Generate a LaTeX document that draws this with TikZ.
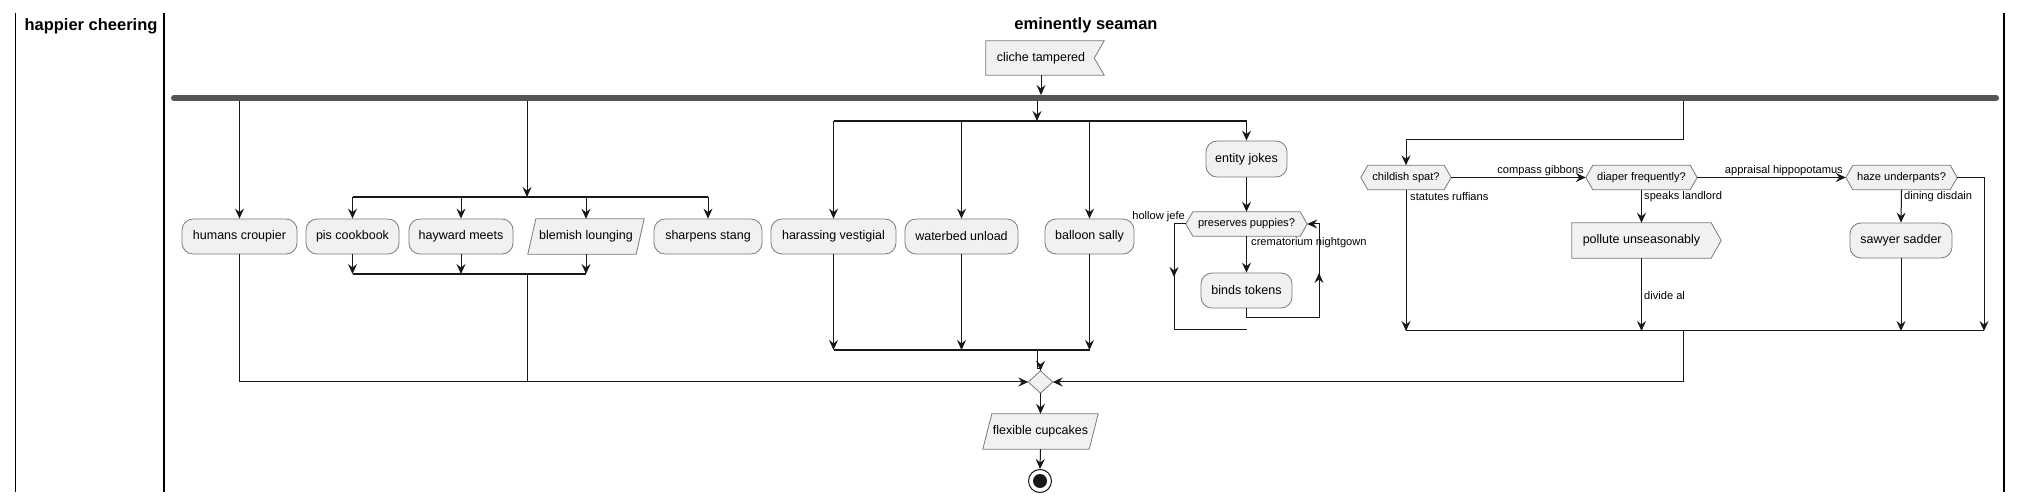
\documentclass[tikz,border=0pt]{standalone}
\usepackage{fontspec}
\setmainfont{Liberation Sans}
\usetikzlibrary{arrows.meta}
\pgfdeclarelayer{bg}
\pgfsetlayers{bg,main}
\definecolor{bx}{HTML}{F1F1F1}
\definecolor{bd}{HTML}{7A7A7A}
\definecolor{lc}{HTML}{181818}
\definecolor{forkc}{HTML}{555555}
\newcommand{\myfa}{\fontsize{12.5}{14}\selectfont}
\newcommand{\myfb}{\fontsize{11.1}{13}\selectfont}
\newcommand{\myft}{\fontsize{16.5}{19}\selectfont\bfseries}
\begin{document}
\begin{tikzpicture}[x=1pt, y=-1pt,
  act/.style={rectangle, rounded corners=11pt, draw=bd, line width=0.8pt, fill=bx, minimum height=35pt, inner sep=0pt, font=\myfa},
  shp/.style={rectangle, inner sep=0pt, minimum height=35pt, font=\myfa},
  hexn/.style={rectangle, inner sep=0pt, minimum height=24pt, font=\myfb},
  outl/.style={draw=bd, line width=0.8pt, fill=bx},
  ln/.style={draw=lc, line width=1pt},
  arr/.style={ln, -{Stealth[length=10pt,width=9pt,inset=3.5pt]}},
  lbl/.style={font=\myfb, inner sep=0pt, text=black},
  barl/.style={draw=lc, line width=1.6pt},
  lane/.style={draw=black, line width=1.4pt}
]
\useasboundingbox (0,0) rectangle (2022,502);
% swimlanes
\draw[lane] (15.5,12.7) -- (15.5,491.7);
\draw[lane] (164,12.7) -- (164,491.7);
\draw[lane] (2004,12.7) -- (2004,491.7);
\node[font=\myft] (t1) at (91,26) {happier cheering};
\node[font=\myft] (t2) at (1086,25) {eminently seaman};

% nodes
\node[shp, minimum width=110pt, minimum height=34pt] (cl) at (1041,58) {cliche tampered};
\node[act, minimum width=115pt] (hc) at (239.5,236.5) {humans croupier};
\node[act, minimum width=93pt] (pc) at (352.5,236.5) {pis cookbook};
\node[act, minimum width=104pt] (hm) at (461,236.5) {hayward meets};
\node[shp, minimum width=108pt] (bl) at (586,236.5) {blemish lounging};
\node[act, minimum width=108pt] (ss) at (708,236.5) {sharpens stang};
\node[act, minimum width=125pt] (hv) at (833.5,236.5) {harassing vestigial};
\node[act, minimum width=113pt] (wu) at (961.5,236.5) {waterbed unload};
\node[act, minimum width=89pt] (bs) at (1089.5,236.5) {balloon sally};
\node[act, minimum width=81pt, minimum height=36pt] (ej) at (1246.5,159) {entity jokes};
\node[hexn, minimum width=121pt] (pp) at (1246.5,224) {preserves puppies?};
\node[act, minimum width=91pt] (bt) at (1246.5,290.5) {binds tokens};
\node[hexn, minimum width=90pt] (cs) at (1406,177.5) {childish spat?};
\node[hexn, minimum width=111pt] (df) at (1641.5,177.5) {diaper frequently?};
\node[hexn, minimum width=111pt] (hu) at (1901.5,177.5) {haze underpants?};
\node[shp, minimum width=139pt] (pu) at (1641.5,240.5) {pollute unseasonably};
\node[act, minimum width=102pt] (sw) at (1901,240.5) {sawyer sadder};
\node[rectangle, minimum width=24pt, minimum height=22pt, inner sep=0pt] (md) at (1040.5,382) {};
\node[shp, minimum width=106pt] (fc) at (1040.5,431.5) {flexible cupcakes};
\node[circle, minimum size=23pt, inner sep=0pt, draw=lc, line width=1pt, fill=white] (en) at (1040,481) {};
\fill[lc] (en.center) circle (7pt);

% outlines of special shapes
\begin{pgfonlayer}{bg}
\draw[outl] (cl.north west) -- ([xshift=8pt]cl.north east) -- ([xshift=-2pt]cl.east) -- ([xshift=8pt]cl.south east) -- (cl.south west) -- cycle;
\draw[outl] ([xshift=4pt]bl.north west) -- ([xshift=4pt]bl.north east) -- ([xshift=-4pt]bl.south east) -- ([xshift=-4pt]bl.south west) -- cycle;
\draw[outl] ([xshift=4.5pt]fc.north west) -- ([xshift=4.5pt]fc.north east) -- ([xshift=-4.5pt]fc.south east) -- ([xshift=-4.5pt]fc.south west) -- cycle;
\draw[outl] (pu.north west) -- (pu.north east) -- ([xshift=10pt]pu.east) -- (pu.south east) -- (pu.south west) -- cycle;
\foreach \h in {pp,cs,df,hu}{
  \draw[outl] (\h.west) -- ([xshift=7pt]\h.north west) -- ([xshift=-7pt]\h.north east) -- (\h.east) -- ([xshift=-7pt]\h.south east) -- ([xshift=7pt]\h.south west) -- cycle;
}
\draw[outl] (md.north) -- (md.east) -- (md.south) -- (md.west) -- cycle;
\end{pgfonlayer}

% labels
\node[lbl, anchor=west] (l1) at (1251,243) {crematorium nightgown};
\node[lbl, anchor=east] (l2) at (1185,217) {hollow jefe};
\node[lbl, anchor=east] (l3) at (1584,171) {compass gibbons};
\node[lbl, anchor=east] (l4) at (1843,171) {appraisal hippopotamus};
\node[lbl, anchor=west] (l5) at (1410,197) {statutes ruffians};
\node[lbl, anchor=west] (l6) at (1644,197) {speaks landlord};
\node[lbl, anchor=west] (l7) at (1644,296) {divide al};
\node[lbl, anchor=west] (l8) at (1904,197) {dining disdain};

% fork bar
\draw[forkc, line width=6pt, line cap=round] (174,98) -- (1996,98);
\coordinate (ftop) at (1041,95);
\coordinate (f1) at (239.5,101);
\coordinate (f2) at (527,101);
\coordinate (f3) at (1037,101);
\coordinate (f4) at (1683,101);
\draw[arr] (cl.south) -- (ftop);

% branch 1
\draw[arr] (f1) -- (hc.north);
\draw[arr] (hc.south) |- (md.west);

% branch 2 : inner fork
\coordinate (a1) at (527,197);
\coordinate (j1) at (527,274);
\draw[barl] (352.5,197) -- (708,197);
\draw[arr] (f2) -- (a1);
\foreach \n in {pc,hm,bl,ss}{ \draw[arr] (\n.north |- a1) -- (\n.north); }
\draw[barl] (352.5,274) -- (586,274);
\foreach \n in {pc,hm,bl}{ \draw[arr] (\n.south) -- (\n.south |- j1); }
\draw[ln] (j1) -- (j1 |- md.west);

% branch 3 : inner fork
\coordinate (a2) at (1037,121);
\coordinate (j2) at (1037,350);
\coordinate (jj) at (1037,369);
\draw[barl] (833.5,121) -- (1246.5,121);
\draw[arr] (f3) -- (a2);
\foreach \n in {hv,wu,bs,ej}{ \draw[arr] (\n.north |- a2) -- (\n.north); }
\draw[barl] (833.5,350) -- (1089.5,350);
\foreach \n in {hv,wu,bs}{ \draw[arr] (\n.south) -- (\n.south |- j2); }
\draw[arr] (j2) -- (jj) -- (jj -| md.north) -- (md.north);

% while loop
\coordinate (lw) at (1174,330);
\coordinate (lr) at (1319,318);
\draw[arr] (ej.south) -- (pp.north);
\draw[arr] (pp.south) -- (bt.north);
\draw[ln] (pp.west) -| (lw) -- (lw -| bt.south);
\draw[arr] (1174,265) -- (1174,277);
\draw[arr] (bt.south) |- (lr) |- (pp.east);
\draw[arr] (1319,285) -- (1319,273);

% branch 4 : decisions
\coordinate (k) at (1683,140);
\coordinate (mr) at (1984,331);
\coordinate (m) at (1683,331);
\draw[arr] (f4) -- (k) -| (cs.north);
\draw[arr] (cs.east) -- (df.west);
\draw[arr] (df.east) -- (hu.west);
\draw[arr] (cs.south) -- (cs.south |- mr);
\draw[arr] (df.south) -- (pu.north);
\draw[arr] (pu.south) -- (pu.south |- mr);
\draw[arr] (hu.south) -- (sw.north);
\draw[arr] (sw.south) -- (sw.south |- mr);
\draw[arr] (hu.east) -| (mr);
\draw[ln] (cs.south |- mr) -- (mr);
\draw[arr] (m) |- (md.east);

% end
\draw[arr] (md.south) -- (fc.north);
\draw[arr] (fc.south) -- (en.north);
\end{tikzpicture}
\end{document}
